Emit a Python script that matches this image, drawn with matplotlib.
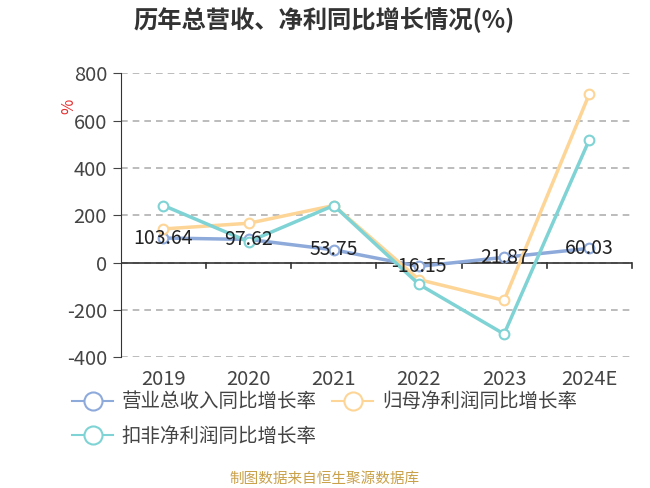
import matplotlib.pyplot as plt
from matplotlib.lines import Line2D

plt.rcParams['font.family'] = ['Noto Sans CJK SC', 'DejaVu Sans']
plt.rcParams['axes.unicode_minus'] = False

years = ['2019', '2020', '2021', '2022', '2023', '2024E']
revenue = [103.64, 97.62, 53.75, -16.15, 21.87, 60.03]
net_profit = [142, 166, 241, -72, -160, 711]
deducted = [241, 88, 241, -92, -302, 518]

c_rev = '#8eaadb'
c_net = '#fdd597'
c_ded = '#7fd3d4'

fig = plt.figure(figsize=(6.5, 4.88), dpi=100)
ax = fig.add_axes([0.186, 0.268, 0.786, 0.582])

x = list(range(len(years)))
for vals, c in [(revenue, c_rev), (net_profit, c_net), (deducted, c_ded)]:
    ax.plot(x, vals, color=c, lw=2.5, marker='o', ms=7, mfc='white', mec=c, mew=1.5, zorder=3)

for xi, v in zip(x, revenue):
    ax.text(xi, v, f'{v:.2f}', ha='center', va='center', fontsize=14, color='#222222', zorder=5)

ax.set_xlim(-0.5, 5.5)
ax.set_ylim(-400, 800)
ax.set_yticks([-400, -200, 0, 200, 400, 600, 800])
ax.yaxis.grid(True, ls=(0, (4, 3)), color='#b0b0b0', lw=1.2)
ax.set_axisbelow(True)

for s in ['top', 'right', 'bottom']:
    ax.spines[s].set_visible(False)
ax.spines['left'].set_color('#333333')
ax.axhline(0, color='#333333', lw=1.2, zorder=2)

ax.set_xticks([])
ax.tick_params(axis='y', labelsize=14.5, colors='#444444', length=6, pad=4)
for i in range(6):
    ax.plot([i + 0.5, i + 0.5], [0, -22], color='#333333', lw=1.2, clip_on=False)
for xi, y in zip(x, years):
    ax.text(xi, -450, y, ha='center', va='top', fontsize=14.5, color='#444444')

fig.text(0.106, 0.781, '%', color='#e83030', fontsize=12, rotation=90, ha='center', va='center')

fig.text(0.205, 0.958, '历年总营收、净利同比增长情况(%)', fontsize=17.5, fontweight='bold',
         color='#333333', ha='left', va='center')

h_rev, h_net, h_ded = [Line2D([], [], color=c, lw=1.5, marker='o', ms=13, mfc='white', mec=c, mew=1.5)
                       for c in (c_rev, c_net, c_ded)]
fig.legend([h_rev, h_ded, h_net], ['营业总收入同比增长率', '扣非净利润同比增长率', '归母净利润同比增长率'],
           ncol=2, loc='upper left', bbox_to_anchor=(0.096, 0.218), borderpad=0,
           frameon=False, fontsize=14, handlelength=2.1, columnspacing=0.8,
           labelcolor='#444444', handletextpad=0.45, labelspacing=0.7)

fig.text(0.5, 0.018, '制图数据来自恒生聚源数据库', color='#c9a14a', fontsize=10.5, ha='center', va='center')

fig.savefig('out.png')
